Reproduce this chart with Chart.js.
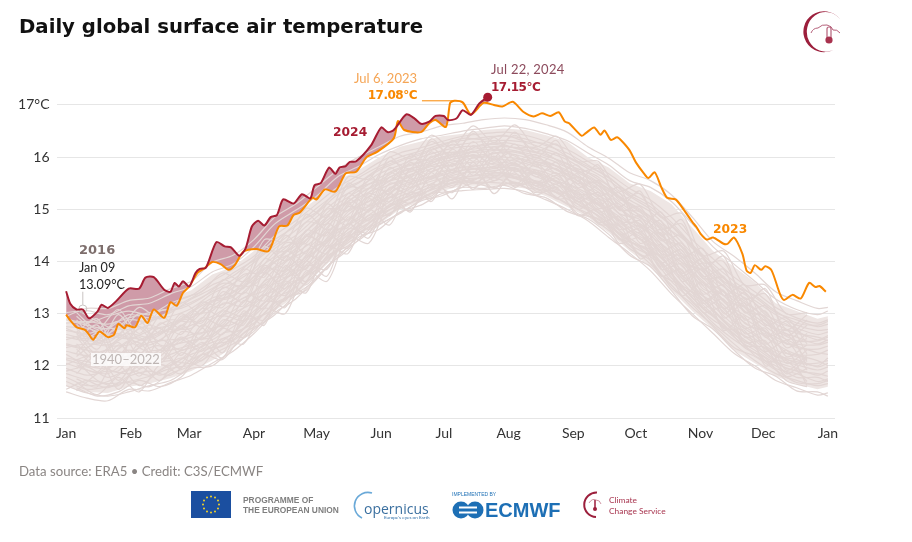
<!DOCTYPE html>
<html>
<head>
<meta charset="utf-8">
<title>Daily global surface air temperature</title>
<script src="https://cdn.jsdelivr.net/npm/chart.js@4/dist/chart.umd.min.js"></script>
<style>
  body { margin: 0; background: #fff; width: 912px; height: 542px; overflow: hidden; position: relative; font-family: Lato, sans-serif; }
  canvas { position: absolute; left: 0; top: 0; }
  .t { position: absolute; white-space: nowrap; line-height: 1; }
  .b { font-family: "DejaVu Sans", sans-serif; font-weight: 700; }
</style>
</head>
<body>
<canvas id="tempChart" width="912" height="542"></canvas>

<div class="t b" style="left:19px;top:17px;font-size:19.7px;color:#111">Daily global surface air temperature</div>

<div class="t b" style="left:79px;top:243px;font-size:13px;color:#7d6e6c">2016</div>
<div class="t" style="left:79px;top:262px;font-size:12.6px;color:#222">Jan 09</div>
<div class="t" style="left:79px;top:279px;font-size:12.6px;color:#222">13.09°C</div>
<div class="t" style="left:91px;top:353px;font-size:13px;color:#bdb5b3;background:rgba(255,255,255,.8);padding:0 1px">1940–2022</div>

<div class="t" style="right:495px;top:72px;font-size:13px;color:#f5a555">Jul 6, 2023</div>
<div class="t b" style="right:495px;top:89px;font-size:12px;letter-spacing:-.5px;color:#f98800">17.08°C</div>
<div class="t" style="left:491px;top:63px;font-size:13px;letter-spacing:.25px;color:#8c4a5c">Jul 22, 2024</div>
<div class="t b" style="left:491px;top:81px;font-size:12px;letter-spacing:-.5px;color:#a61c32">17.15°C</div>
<div class="t b" style="left:333px;top:126px;font-size:12.3px;color:#a61c32">2024</div>
<div class="t b" style="left:713px;top:223px;font-size:12.3px;color:#f98800">2023</div>

<div class="t" style="left:19px;top:465px;font-size:13.2px;color:#8a8583">Data source: ERA5 • Credit: C3S/ECMWF</div>

<!-- logo, top right -->
<svg style="position:absolute;left:800px;top:8px" width="48" height="48" viewBox="0 0 48 48">
  <path d="M40 11 A20.5 20.5 0 1 0 33 42 A18.8 19.8 0 1 1 40 11Z" fill="#9c1f3c"/>
  <path d="M11 25 q2 -5 7 -5 q4 -4 9 -3 q5 1 6 5 q4 -1 7 3" fill="none" stroke="#b5607a" stroke-width="1"/>
  <rect x="27" y="19" width="4" height="14" rx="2" fill="none" stroke="#b5607a" stroke-width="1.2"/>
  <circle cx="29" cy="32" r="3.6" fill="#a8324e"/>
</svg>

<!-- footer logos -->
<svg style="position:absolute;left:191px;top:491px" width="40" height="27" viewBox="0 0 40 27">
  <rect width="40" height="27" fill="#1b4fa0"/>
  <g fill="#f5d327">
    <circle cx="20" cy="5.5" r="1"/><circle cx="24" cy="6.6" r="1"/><circle cx="27" cy="9.5" r="1"/>
    <circle cx="28" cy="13.5" r="1"/><circle cx="27" cy="17.5" r="1"/><circle cx="24" cy="20.4" r="1"/>
    <circle cx="20" cy="21.5" r="1"/><circle cx="16" cy="20.4" r="1"/><circle cx="13" cy="17.5" r="1"/>
    <circle cx="12" cy="13.5" r="1"/><circle cx="13" cy="9.5" r="1"/><circle cx="16" cy="6.6" r="1"/>
  </g>
</svg>
<div class="t" style="left:243px;top:495px;font:700 8.4px 'Liberation Sans',sans-serif;color:#7f7f7f;line-height:10px">PROGRAMME OF<br>THE EUROPEAN UNION</div>

<svg style="position:absolute;left:350px;top:488px" width="30" height="34" viewBox="0 0 30 34">
  <path d="M22 5 A13.5 13.5 0 0 0 12 30" fill="none" stroke="#6aa9d8" stroke-width="1.6"/>
</svg>
<div class="t" style="left:364px;top:499px;font:14px 'Open Sans',sans-serif;color:#3a6f9f">opernicus</div>
<div class="t" style="left:384px;top:514px;font:4.6px Lato,sans-serif;color:#2d6ea8">Europe's eyes on Earth</div>

<div class="t" style="left:452px;top:491px;font:5px 'Liberation Sans',sans-serif;color:#1d6fb5">IMPLEMENTED BY</div>
<svg style="position:absolute;left:452px;top:501px" width="32" height="18" viewBox="0 0 32 18">
  <circle cx="9" cy="9" r="8.5" fill="#1d6fb5"/><circle cx="23" cy="9" r="8.5" fill="#1d6fb5"/>
  <rect x="7" y="5.5" width="18" height="2" fill="#fff"/><rect x="7" y="10.5" width="18" height="2" fill="#fff"/>
</svg>
<div class="t" style="left:485px;top:499px;font:700 20px 'Liberation Sans',sans-serif;color:#1d6fb5">ECMWF</div>

<svg style="position:absolute;left:582px;top:491px" width="26" height="28" viewBox="0 0 26 28">
  <path d="M15 1.5 A12 12 0 1 0 14 26" fill="none" stroke="#9c1f3c" stroke-width="2"/>
  <path d="M7 12 q3 -5 7 -3 q4 0 5 4" fill="none" stroke="#c27a8c" stroke-width=".8"/>
  <rect x="12" y="9" width="2" height="8" fill="#b5546c"/><circle cx="13" cy="18" r="2" fill="#9c1f3c"/>
</svg>
<div class="t" style="left:609px;top:495px;font:8.4px Lato,sans-serif;color:#a8354f;line-height:11px">Climate<br>Change Service</div>

<script>
// month axis
const monthTicks = [0, 31, 59, 90, 120, 151, 181, 212, 243, 273, 304, 334, 365];
const monthLabels = ["Jan", "Feb", "Mar", "Apr", "May", "Jun", "Jul", "Aug", "Sep", "Oct", "Nov", "Dec", "Jan"];
const tempTicks = [11, 12, 13, 14, 15, 16, 17];

// 2023
const days2023 = [0,2,5,9,11,13,16,20,23,25,28,29,33,36,39,42,47,50,53,56,59,63,66,70,74,78,81,85,91,97,102,106,109,112,118,120,124,129,134,139,144,149,157,159,162,170,174,177,182,184,186,190,194,200,205,209,214,219,224,228,232,236,239,241,247,249,253,256,258,261,264,266,270,273,277,279,282,285,288,292,296,300,302,304,307,310,315,317,320,324,326,328,330,333,335,338,342,344,348,352,356,359,361,364];
const temps2023 = [12.98,12.87,12.74,12.69,12.6,12.5,12.66,12.55,12.6,12.8,12.72,12.78,12.74,12.96,12.82,13.08,12.92,13.22,13.15,13.4,13.52,13.78,13.86,13.99,13.95,13.84,13.94,14.19,14.24,14.2,14.67,14.69,14.89,14.94,15.22,15.19,15.38,15.34,15.69,15.72,16.0,16.1,16.36,16.69,16.52,16.48,16.65,16.71,16.58,17.04,17.08,17.05,16.82,17.04,17.0,16.97,17.06,16.87,16.78,16.84,16.79,16.86,16.68,16.65,16.41,16.46,16.57,16.43,16.51,16.33,16.38,16.32,16.13,15.9,15.68,15.6,15.71,15.44,15.22,15.19,14.99,14.76,14.66,14.53,14.42,14.46,14.34,14.34,14.46,14.15,13.83,13.78,13.93,13.84,13.91,13.83,13.38,13.26,13.36,13.29,13.59,13.51,13.53,13.42];

// 2024, up to the record day
const days2024 = [0,2,5,8,11,15,17,20,24,30,35,38,42,47,50,52,54,56,59,62,64,67,72,76,79,83,86,89,92,95,98,101,104,109,113,117,119,122,126,129,131,134,136,139,146,151,154,157,163,167,170,174,177,181,183,187,190,194,198,202];
const temps2024 = [13.43,13.19,13.08,13.08,12.91,13.04,13.17,13.11,13.24,13.48,13.48,13.69,13.7,13.46,13.42,13.59,13.52,13.62,13.52,13.78,13.86,13.88,14.37,14.29,14.27,14.11,14.25,14.67,14.78,14.69,14.85,14.89,15.19,15.11,15.29,15.21,15.46,15.5,15.8,15.68,15.8,15.83,15.91,15.92,16.22,16.57,16.48,16.52,16.82,16.74,16.64,16.68,16.79,16.79,16.71,16.74,16.9,16.81,17.03,17.15];

// 1940-2022: band edges and a sample of the years, read every 10 days
const pastDays = [0,10,20,30,40,50,60,70,80,90,100,110,120,130,140,150,160,170,180,190,200,210,220,230,240,250,260,270,280,290,300,310,320,330,340,350,360,365];
const bandLow = [11.62,11.5,11.48,11.6,11.66,11.76,11.9,12.1,12.35,12.7,13.05,13.35,13.75,14.15,14.5,14.72,15.0,15.15,15.35,15.45,15.45,15.45,15.4,15.25,15.05,14.85,14.55,14.2,13.9,13.45,13.05,12.7,12.3,12.05,11.8,11.65,11.55,11.6];
const bandHigh = [12.85,12.9,12.95,13.1,13.15,13.3,13.45,13.75,13.9,14.2,14.65,14.9,15.2,15.55,15.75,16.0,16.2,16.3,16.4,16.45,16.52,16.55,16.52,16.42,16.3,16.0,15.8,15.5,15.35,15.1,14.65,14.2,13.9,13.6,13.2,13.05,12.9,12.95];
const pastYears = [
  [11.5,11.38,11.33,11.55,11.52,11.68,11.82,12.05,12.28,12.62,13.02,13.28,13.7,14.08,14.46,14.62,14.95,15.08,15.3,15.36,15.38,15.4,15.34,15.18,15.0,14.78,14.46,14.16,13.82,13.38,13.0,12.62,12.24,12.0,11.72,11.58,11.44,11.48],
  [11.62,11.48,11.42,11.5,11.62,11.72,11.95,12.0,12.35,12.7,12.98,13.36,13.66,14.12,14.4,14.7,14.92,15.16,15.26,15.42,15.4,15.46,15.3,15.22,14.96,14.82,14.52,14.12,13.9,13.44,12.96,12.7,12.3,11.96,11.8,11.52,11.5,11.42],
  [11.7,11.55,11.6,11.68,11.6,11.85,12.0,12.22,12.42,12.66,13.15,13.42,13.78,14.2,14.5,14.82,15.02,15.22,15.4,15.5,15.52,15.5,15.48,15.3,15.12,14.88,14.6,14.3,13.95,13.55,13.12,12.78,12.42,12.1,11.85,11.72,11.62,11.66],
  [11.85,11.72,11.58,11.8,11.9,11.82,12.12,12.3,12.55,12.88,13.1,13.55,13.9,14.25,14.62,14.85,15.12,15.3,15.44,15.58,15.6,15.62,15.55,15.42,15.2,15.0,14.72,14.32,14.1,13.62,13.25,12.82,12.5,12.25,11.95,11.85,11.7,11.75],
  [11.95,11.82,11.9,11.85,12.02,12.1,12.05,12.4,12.5,12.95,13.3,13.5,14.0,14.32,14.7,14.95,15.2,15.28,15.52,15.6,15.68,15.7,15.62,15.45,15.3,15.1,14.75,14.45,14.15,13.75,13.3,12.95,12.55,12.3,12.05,11.9,11.85,11.8],
  [12.05,11.92,11.85,12.1,12.0,12.22,12.35,12.5,12.75,13.0,13.42,13.72,14.05,14.45,14.75,15.02,15.25,15.4,15.58,15.7,15.72,15.76,15.7,15.55,15.38,15.12,14.85,14.55,14.3,13.85,13.4,13.05,12.72,12.42,12.12,12.02,11.92,11.98],
  [12.15,12.08,12.0,12.05,12.28,12.3,12.42,12.72,12.8,13.18,13.5,13.82,14.2,14.55,14.85,15.1,15.35,15.48,15.6,15.75,15.8,15.8,15.72,15.62,15.42,15.22,14.92,14.6,14.35,13.95,13.55,13.15,12.78,12.52,12.25,12.05,12.05,12.1],
  [12.02,12.18,12.12,12.3,12.22,12.42,12.6,12.68,13.0,13.22,13.62,13.95,14.22,14.68,14.92,15.2,15.42,15.55,15.72,15.8,15.85,15.9,15.8,15.7,15.5,15.3,15.0,14.72,14.42,14.05,13.6,13.28,12.9,12.62,12.3,12.2,12.1,12.0],
  [12.28,12.2,12.3,12.25,12.45,12.5,12.55,12.9,13.05,13.4,13.72,14.0,14.4,14.72,15.05,15.25,15.5,15.62,15.8,15.88,15.92,15.95,15.88,15.75,15.6,15.35,15.08,14.75,14.55,14.12,13.72,13.35,12.98,12.7,12.42,12.22,12.22,12.3],
  [12.4,12.3,12.2,12.48,12.4,12.62,12.78,12.95,13.2,13.42,13.85,14.15,14.45,14.85,15.1,15.38,15.55,15.7,15.85,15.95,16.0,16.0,15.95,15.85,15.65,15.45,15.2,14.85,14.6,14.25,13.82,13.45,13.1,12.85,12.5,12.38,12.25,12.22],
  [12.35,12.42,12.38,12.4,12.58,12.7,12.72,13.1,13.25,13.6,13.9,14.25,14.58,14.9,15.22,15.42,15.65,15.78,15.9,16.0,16.05,16.08,16.0,15.9,15.75,15.5,15.25,14.95,14.72,14.3,13.9,13.5,13.2,12.9,12.62,12.42,12.4,12.45],
  [12.55,12.48,12.5,12.62,12.55,12.82,12.92,13.15,13.4,13.65,14.05,14.3,14.68,15.02,15.28,15.52,15.7,15.85,16.0,16.08,16.1,16.15,16.08,15.98,15.8,15.6,15.3,15.0,14.78,14.42,14.0,13.62,13.25,13.02,12.7,12.55,12.42,12.5],
  [12.5,12.6,12.45,12.75,12.72,12.78,13.05,13.3,13.42,13.8,14.1,14.42,14.75,15.1,15.35,15.6,15.8,15.92,16.05,16.12,16.18,16.2,16.15,16.02,15.88,15.62,15.4,15.1,14.85,14.5,14.05,13.72,13.35,13.08,12.8,12.62,12.55,12.48],
  [12.68,12.62,12.72,12.7,12.88,12.95,13.1,13.38,13.58,13.85,14.25,14.5,14.85,15.18,15.42,15.68,15.85,16.0,16.12,16.2,16.22,16.28,16.2,16.1,15.95,15.7,15.45,15.18,14.95,14.58,14.15,13.78,13.42,13.2,12.85,12.72,12.6,12.65],
  [12.75,12.72,12.62,12.88,12.85,13.05,13.22,13.42,13.65,13.98,14.3,14.6,14.92,15.28,15.5,15.75,15.92,16.05,16.2,16.25,16.3,16.32,16.28,16.15,16.0,15.78,15.55,15.25,15.0,14.68,14.25,13.9,13.5,13.25,12.98,12.78,12.68,12.7],
  [12.82,12.85,12.8,12.92,13.02,13.1,13.3,13.55,13.72,14.05,14.42,14.68,15.02,15.32,15.6,15.82,16.0,16.12,16.25,16.32,16.38,16.4,16.35,16.22,16.08,15.85,15.6,15.32,15.1,14.75,14.32,13.95,13.62,13.32,13.02,12.88,12.75,12.8],
  [12.9,12.82,12.95,13.05,12.98,13.2,13.35,13.62,13.85,14.1,14.5,14.78,15.1,15.42,15.65,15.9,16.08,16.18,16.3,16.4,16.45,16.48,16.42,16.3,16.15,15.92,15.68,15.4,15.18,14.85,14.42,14.05,13.7,13.42,13.12,12.92,12.82,12.88],
  [13.02,13.06,12.98,13.15,13.2,13.38,13.52,13.8,13.95,14.28,14.72,14.98,15.25,15.62,15.82,16.05,16.22,16.35,16.42,16.5,16.55,16.6,16.55,16.45,16.32,16.08,15.85,15.55,15.42,15.15,14.72,14.28,13.95,13.62,13.28,13.08,12.98,13.05],
  [12.95,13.1,13.1,13.25,13.3,13.48,13.62,13.98,14.12,14.42,14.85,15.1,15.42,15.75,16.0,16.2,16.4,16.48,16.6,16.65,16.72,16.75,16.72,16.62,16.48,16.2,15.98,15.7,15.55,15.28,14.85,14.38,14.1,13.78,13.42,13.25,13.1,13.12],
  [11.55,11.72,11.66,11.7,11.8,11.95,12.02,12.3,12.48,12.8,13.2,13.4,13.85,14.22,14.55,14.75,15.05,15.2,15.42,15.55,15.5,15.58,15.42,15.35,15.1,14.92,14.65,14.25,14.02,13.5,13.18,12.75,12.35,12.18,11.92,11.68,11.66,11.72],
  [12.22,12.02,12.08,12.18,12.12,12.38,12.48,12.6,12.9,13.12,13.58,13.78,14.12,14.6,14.8,15.15,15.3,15.5,15.65,15.75,15.78,15.85,15.78,15.58,15.48,15.25,14.95,14.65,14.38,14.0,13.48,13.22,12.85,12.58,12.2,12.12,11.98,12.05],
  [11.78,11.62,11.7,11.92,11.82,12.02,12.22,12.35,12.62,12.82,13.22,13.62,13.85,14.38,14.58,14.9,15.08,15.35,15.48,15.52,15.62,15.65,15.52,15.38,15.25,15.02,14.68,14.38,14.22,13.7,13.22,12.88,12.62,12.2,12.0,11.78,11.78,11.7],
  [12.6,12.52,12.58,12.52,12.68,12.88,12.85,13.22,13.32,13.72,13.98,14.35,14.62,15.05,15.18,15.48,15.72,15.82,15.95,16.05,16.14,16.12,16.05,15.92,15.72,15.55,15.35,15.05,14.65,14.35,13.95,13.55,13.3,12.95,12.68,12.48,12.48,12.55],
  [12.42,12.35,12.6,12.55,12.5,12.72,12.98,13.05,13.5,13.55,14.0,14.2,14.62,14.95,15.3,15.48,15.6,15.75,15.98,16.02,16.02,16.1,15.92,15.82,15.68,15.4,15.15,14.88,14.5,14.18,13.78,13.42,13.05,12.78,12.55,12.35,12.32,12.38],
  [12.12,12.0,11.95,12.2,12.15,12.15,12.48,12.55,12.92,13.28,13.45,13.88,14.3,14.5,14.98,15.12,15.45,15.58,15.68,15.82,15.75,15.82,15.75,15.65,15.4,15.18,14.98,14.6,14.25,13.88,13.48,13.08,12.68,12.48,12.18,12.08,12.0,12.15],
  [12.88,12.78,12.72,12.98,12.92,13.02,13.28,13.48,13.78,14.02,14.35,14.72,14.95,15.35,15.52,15.78,15.95,16.08,16.22,16.36,16.34,16.42,16.3,16.25,16.02,15.82,15.62,15.28,15.05,14.7,14.3,13.85,13.55,13.35,13.05,12.82,12.78,12.85],
  [11.9,11.98,11.78,11.95,12.08,12.0,12.28,12.45,12.62,13.05,13.35,13.62,13.95,14.4,14.68,14.92,15.18,15.35,15.5,15.62,15.65,15.68,15.58,15.5,15.28,15.05,14.8,14.4,14.18,13.68,13.35,12.98,12.6,12.35,12.08,11.95,11.82,11.9],
  [12.72,12.55,12.4,12.6,12.78,12.65,12.92,13.25,13.35,13.7,14.18,14.38,14.78,15.0,15.4,15.55,15.78,15.9,16.08,16.1,16.25,16.22,16.12,16.05,15.82,15.65,15.38,15.08,14.82,14.48,14.1,13.68,13.38,13.1,12.72,12.65,12.5,12.58]
];

// more years, read halfway between the dates above, these cross each other more
const pastDaysMid = [5,15,25,35,45,55,65,75,85,95,105,115,125,135,145,155,165,175,185,195,205,215,225,235,245,255,265,275,285,295,305,315,325,335,345,355];
const pastYearsMid = [
  [11.68,11.45,11.78,11.5,12.02,11.85,12.32,12.38,12.85,13.0,13.55,13.72,14.25,14.42,14.88,14.9,15.32,15.22,15.58,15.42,15.6,15.45,15.52,15.2,15.22,14.72,14.68,14.12,14.12,13.48,13.35,12.72,12.68,12.1,12.1,11.7],
  [12.1,11.72,11.62,12.0,11.72,12.25,12.1,12.62,12.7,13.22,13.25,13.92,13.85,14.62,14.55,15.22,15.12,15.62,15.42,15.85,15.55,15.8,15.4,15.6,15.0,15.2,14.52,14.62,13.9,14.05,13.2,13.42,12.55,12.62,11.92,12.2],
  [12.55,12.15,12.45,11.95,12.5,12.3,12.55,13.05,12.95,13.62,13.75,14.05,14.6,14.65,15.3,15.15,15.75,15.58,15.95,15.7,16.1,15.72,15.9,15.5,15.6,15.02,15.1,14.35,14.55,13.72,13.95,13.0,13.3,12.42,12.7,12.0],
  [12.8,12.42,12.75,12.2,12.82,12.6,13.1,12.95,13.62,13.5,14.2,14.0,14.85,14.7,15.4,15.35,15.9,15.6,16.15,15.82,16.2,15.85,16.0,15.75,15.62,15.4,14.92,14.8,14.2,14.35,13.55,13.72,12.88,13.05,12.35,12.62],
  [11.85,12.2,11.55,12.05,11.82,12.05,12.45,12.15,12.95,12.88,13.62,13.4,14.3,14.15,15.0,14.7,15.48,15.25,15.75,15.55,15.82,15.48,15.75,15.32,15.35,14.75,14.85,14.05,14.32,13.35,13.6,12.68,12.95,12.0,12.3,11.62],
  [12.32,11.98,12.32,12.55,12.1,12.65,12.62,13.2,13.15,13.92,13.7,14.52,14.3,15.2,14.95,15.62,15.42,16.02,15.7,16.12,15.78,16.05,15.62,15.9,15.2,15.45,14.72,14.88,14.08,14.22,13.38,13.55,12.72,12.88,12.18,12.4],
  [13.02,12.7,13.08,12.62,13.05,13.1,13.3,13.58,13.55,14.2,14.2,14.75,14.72,15.42,15.4,15.92,15.78,16.3,16.02,16.45,16.15,16.42,16.1,16.25,15.72,15.78,15.18,15.3,14.62,14.72,13.98,14.0,13.28,13.38,12.7,12.98],
  [11.52,11.85,12.02,11.62,11.92,12.15,12.0,12.52,12.42,13.1,13.0,13.82,13.62,14.48,14.35,15.1,14.98,15.48,15.32,15.72,15.4,15.7,15.28,15.42,14.88,15.0,14.35,14.45,13.72,13.85,13.02,13.12,12.4,12.35,11.8,11.95],
  [12.65,12.9,12.2,12.72,12.3,12.95,12.82,13.42,13.22,14.05,13.88,14.6,14.5,15.3,15.08,15.8,15.5,16.18,15.82,16.3,15.9,16.25,15.82,16.08,15.42,15.55,14.98,15.05,14.4,14.5,13.72,13.85,13.02,13.15,12.5,12.78],
  [12.18,12.5,12.85,12.35,12.25,12.78,12.5,13.0,13.3,13.45,13.98,14.2,14.42,14.95,15.15,15.4,15.65,15.82,15.85,16.05,15.85,15.95,15.7,15.78,15.3,15.28,14.78,14.72,14.28,13.98,13.82,13.25,13.12,12.58,12.62,12.08],
  [11.75,11.6,12.25,11.8,12.3,11.95,12.72,12.25,13.05,12.78,13.85,13.55,14.1,14.3,14.72,15.05,15.2,15.38,15.62,15.5,15.7,15.62,15.5,15.55,15.1,14.88,14.55,14.25,14.0,13.55,13.28,12.85,12.5,12.25,11.95,11.88],
  [12.95,12.62,12.58,13.0,12.62,13.22,13.0,13.65,13.48,14.28,14.02,14.9,14.62,15.5,15.22,16.0,15.6,16.35,15.95,16.5,16.0,16.48,15.98,16.32,15.55,15.85,15.05,15.35,14.5,14.8,13.85,14.1,13.15,13.48,12.58,12.88],
  [12.42,12.05,11.9,12.42,12.05,12.5,12.28,12.88,12.78,13.55,13.35,14.12,13.98,14.85,14.62,15.42,15.28,15.78,15.55,16.0,15.62,15.88,15.52,15.7,15.15,15.32,14.62,14.68,13.98,14.15,13.25,13.45,12.62,12.72,12.05,12.3],
  [12.72,12.32,12.98,12.5,12.62,12.88,13.15,13.35,13.75,13.8,14.35,14.35,15.0,14.98,15.55,15.55,15.95,15.95,16.25,16.1,16.28,16.18,16.18,15.95,15.78,15.62,15.25,15.0,14.72,14.45,14.1,13.62,13.42,12.98,12.8,12.55],
  [11.95,12.28,11.72,12.22,12.38,11.98,12.38,12.72,12.55,13.35,13.12,14.0,13.72,14.72,14.45,15.3,14.95,15.7,15.2,15.9,15.3,15.78,15.35,15.48,15.05,15.12,14.42,14.55,13.85,13.95,13.12,13.28,12.45,12.48,11.85,12.15],
  [12.5,12.78,12.08,12.85,12.4,12.45,12.92,12.78,13.4,13.25,14.1,13.85,14.72,14.48,15.25,15.05,15.78,15.45,16.08,15.65,16.02,15.6,15.85,15.42,15.68,15.08,15.32,14.58,14.78,13.78,14.05,13.1,13.4,12.55,12.85,12.22],
  [13.08,12.85,12.7,13.12,12.9,13.28,13.42,13.78,13.62,14.42,14.38,15.02,14.85,15.62,15.58,16.1,15.98,16.42,16.18,16.6,16.28,16.62,16.2,16.4,15.92,15.92,15.35,15.48,14.85,14.92,14.12,14.2,13.55,13.55,13.0,13.02],
  [11.58,11.42,11.5,11.72,11.6,11.78,12.22,12.12,12.62,12.85,13.28,13.45,13.9,14.22,14.6,14.82,15.05,15.3,15.35,15.5,15.42,15.52,15.32,15.35,14.92,14.82,14.45,14.28,13.75,13.52,13.1,12.8,12.35,12.15,11.72,11.6],
  [12.25,12.62,12.0,12.35,12.72,12.2,12.78,12.6,13.25,13.1,13.92,13.62,14.55,14.25,15.2,14.88,15.6,15.15,15.88,15.38,15.98,15.42,15.72,15.22,15.55,14.95,15.05,14.42,14.6,13.62,13.85,12.92,13.2,12.28,12.48,11.92],
  [12.88,12.45,12.62,12.38,12.95,12.72,13.22,13.12,13.85,13.7,14.5,14.15,15.1,14.78,15.65,15.28,16.05,15.72,16.32,15.92,16.38,15.95,16.05,15.68,15.85,15.25,15.42,14.65,14.95,14.08,14.25,13.35,13.55,12.78,12.92,12.42],
  [12.02,11.88,12.4,12.12,12.18,12.55,12.35,12.95,12.88,13.78,13.48,14.32,14.15,15.1,14.78,15.5,15.35,15.92,15.6,15.78,15.72,15.9,15.45,15.65,15.25,15.15,14.68,14.78,14.15,14.1,13.48,13.35,12.82,12.65,12.25,12.12],
  [12.62,12.22,12.52,12.75,12.48,13.0,12.75,13.5,13.38,13.88,13.82,14.48,14.35,15.05,15.0,15.7,15.52,16.1,15.75,16.22,15.95,16.12,15.92,15.82,15.5,15.5,15.0,14.95,14.45,14.28,13.68,13.68,13.05,12.95,12.42,12.52]
];

// small markers and leader lines
const peak2016Day = [8];
const peak2016Temp = [13.09];
const leader2016Days = [8, 8];
const leader2016Temps = [13.17, 13.42];
const leader2023Days = [170.5, 186];
const leader2023Temps = [17.08, 17.08];

const toPoints = (xs, ys) => xs.map((x, i) => ({ x: x, y: ys[i] }));

const paleLine = "#e2d6d4";
const redLine = "#a61c32";
const orangeLine = "#f98800";

const datasets = [
    { data: toPoints(days2024, temps2024), borderColor: redLine, borderWidth: 2, order: 1, tension: 0.25,
      fill: { target: 1, above: "#cf9ba8", below: "rgba(0,0,0,0)" },
      pointRadius: ctx => ctx.dataIndex === days2024.length - 1 ? 4.5 : 0,
      pointBackgroundColor: redLine, pointBorderWidth: 0 },
    { data: toPoints(days2023, temps2023), borderColor: orangeLine, borderWidth: 2, order: 2, tension: 0.25, pointRadius: 0 },
    { data: toPoints(leader2023Days, leader2023Temps), borderColor: orangeLine, borderWidth: 1, order: 3, pointRadius: 0 },
    { data: toPoints(leader2016Days, leader2016Temps), borderColor: "#c9c4c2", borderWidth: 1, order: 4, pointRadius: 0 },
    { data: toPoints(peak2016Day, peak2016Temp), showLine: false, order: 5, pointRadius: 4,
      pointBackgroundColor: "rgba(0,0,0,0)", pointBorderColor: "#c9c4c2", pointBorderWidth: 1 },
    { data: toPoints(pastDays, bandHigh), borderWidth: 0, pointRadius: 0, order: 90, fill: { target: 6, above: "#eee6e4", below: "#eee6e4" } },
    { data: toPoints(pastDays, bandLow), borderWidth: 0, pointRadius: 0, order: 91 }
];
pastYears.forEach(temps => {
    datasets.push({ data: toPoints(pastDays, temps), borderColor: paleLine, borderWidth: 1.2, pointRadius: 0, tension: 0.3, order: 10 });
});
pastYearsMid.forEach(temps => {
    datasets.push({ data: toPoints(pastDaysMid, temps), borderColor: paleLine, borderWidth: 1.2, pointRadius: 0, tension: 0.3, order: 10 });
});

new Chart(document.getElementById("tempChart"), {
    type: "line",
    data: { datasets: datasets },
    options: {
        responsive: false,
        animation: false,
        clip: false,
        layout: { padding: { left: 0, right: 77, top: 60, bottom: 94 } },
        plugins: {
            legend: { display: false },
            tooltip: { enabled: false },
            filler: { drawTime: "beforeDatasetsDraw" }
        },
        scales: {
            x: {
                type: "linear",
                min: -4.6,
                max: 368.4,
                grid: { display: false, tickLength: 0 },
                border: { display: false },
                afterBuildTicks: axis => { axis.ticks = monthTicks.map(v => ({ value: v })); },
                afterFit: axis => { axis.height = 30; },
                ticks: {
                    autoSkip: false,
                    maxRotation: 0,
                    padding: 7,
                    color: "#333",
                    font: { family: "Lato", size: 14 },
                    callback: (v, i) => monthLabels[i]
                }
            },
            y: {
                min: 11,
                max: 17.862,
                grid: { color: "#e6e6e6", drawTicks: false },
                border: { display: false },
                afterBuildTicks: axis => { axis.ticks = tempTicks.map(v => ({ value: v })); },
                afterFit: axis => { axis.width = 56.5; },
                ticks: {
                    padding: 7,
                    color: "#333",
                    font: { family: "Lato", size: 14 },
                    callback: v => v === 17 ? "17°C" : String(v)
                }
            }
        }
    }
});
</script>
</body>
</html>
